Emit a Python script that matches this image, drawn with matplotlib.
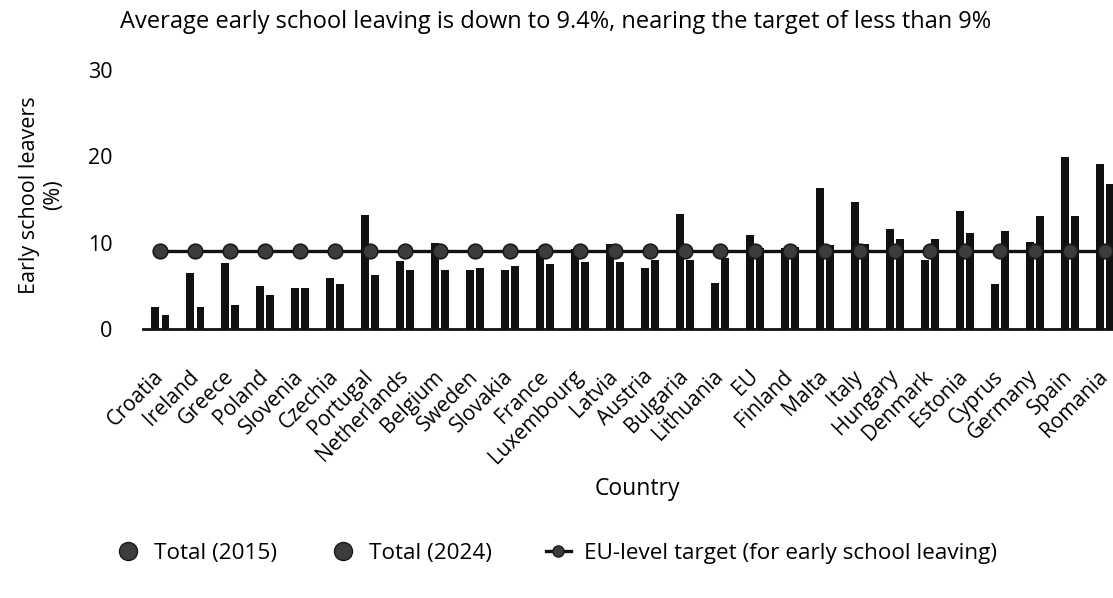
import matplotlib
matplotlib.use("Agg")
import matplotlib.pyplot as plt
from matplotlib.lines import Line2D
import numpy as np

plt.rcParams['font.family'] = ['Open Sans', 'DejaVu Sans']

countries = ["Croatia", "Ireland", "Greece", "Poland", "Slovenia", "Czechia", "Portugal",
             "Netherlands", "Belgium", "Sweden", "Slovakia", "France", "Luxembourg", "Latvia",
             "Austria", "Bulgaria", "Lithuania", "EU", "Finland", "Malta", "Italy", "Hungary",
             "Denmark", "Estonia", "Cyprus", "Germany", "Spain", "Romania"]
total_2015 = [2.5, 6.5, 7.6, 5.0, 4.8, 5.9, 13.2,
              7.9, 10.0, 6.8, 6.8, 9.3, 9.3, 9.8,
              7.1, 13.3, 5.3, 10.9, 9.4, 16.3, 14.7, 11.6,
              8.0, 13.7, 5.2, 10.1, 19.9, 19.1]
total_2024 = [1.6, 2.5, 2.8, 3.9, 4.8, 5.2, 6.3,
              6.8, 6.8, 7.0, 7.3, 7.5, 7.8, 7.7,
              8.0, 8.0, 8.2, 9.4, 9.5, 9.7, 9.8, 10.4,
              10.4, 11.1, 11.3, 13.1, 13.1, 16.8]
target = [9.0] * len(countries)
yticks = [0, 10, 20, 30]

fig = plt.figure(figsize=(11.13, 5.98), dpi=100)
ax = fig.add_axes([143/1113, 1 - 329/598, 1 - 143/1113, 268/598])

x = np.arange(len(countries))
w = 0.22
ax.bar(x - 0.14, total_2015, width=w, color='#111111', zorder=2)
ax.bar(x + 0.15, total_2024, width=w, color='#111111', zorder=2)
ax.plot(x, target, color='#111111', lw=2.4, marker='o', markersize=10.5,
        markerfacecolor='#3c3c3c', markeredgecolor='#1a1a1a', markeredgewidth=1.2, zorder=3)

ax.set_xlim(-0.49, 27.24)
ax.set_ylim(0, 31)
ax.set_yticks(yticks)
ax.set_yticklabels([str(v) for v in yticks], fontsize=15.5)
ax.tick_params(axis='y', length=0, pad=22)
ax.set_xticks(x)
ax.set_xticklabels(countries, rotation=45, ha='right', va='center', rotation_mode='anchor', fontsize=15)
ax.tick_params(axis='x', length=0, pad=32)

for s in ['top', 'right', 'left']:
    ax.spines[s].set_visible(False)
ax.spines['bottom'].set_linewidth(2)
ax.spines['bottom'].set_color('#111111')

ax.set_ylabel("Early school leavers\n(%)", fontsize=15.5, labelpad=17)
ax.set_xlabel("Country", fontsize=16.5)
ax.xaxis.set_label_coords(0.51, (329 - 477) / 268)

fig.text(0.499, 1 - 22/598, "Average early school leaving is down to 9.4%, nearing the target of less than 9%",
         ha='center', va='center', fontsize=17)

handles = [
    Line2D([], [], ls='none', marker='o', markersize=13, markerfacecolor='#3c3c3c', markeredgecolor='#1a1a1a'),
    Line2D([], [], ls='none', marker='o', markersize=13, markerfacecolor='#3c3c3c', markeredgecolor='#1a1a1a'),
    Line2D([], [], color='#111111', lw=2.4, marker='o', markersize=8, markerfacecolor='#3c3c3c', markeredgecolor='#1a1a1a'),
]
labels = ["Total (2015)", "Total (2024)", "EU-level target (for early school leaving)"]
fig.legend(handles, labels, loc='center', bbox_to_anchor=(0.5, 1 - 553/598), ncol=3,
           frameon=False, fontsize=16.2, handlelength=1.1, handletextpad=0.6, columnspacing=2.4)

fig.savefig("out.png", dpi=100)
